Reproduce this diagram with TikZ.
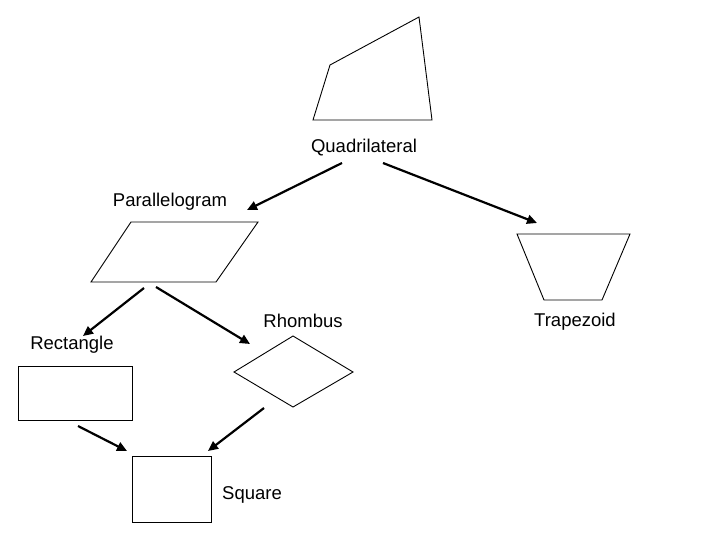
\documentclass[tikz,border=0pt]{standalone}
\usepackage{fontspec}
\setmainfont{Liberation Sans}
\usetikzlibrary{arrows.meta}

\tikzset{
  shapeline/.style={line width=0.9pt},
  isa/.style={line width=2.2pt, -{Triangle[length=10pt,width=9pt]}},
  lbl/.style={inner sep=0pt, font=\fontsize{18.5}{21}\selectfont}
}

\begin{document}
\begin{tikzpicture}[x=1pt, y=-1pt]
    \useasboundingbox[fill=white] (0,0) rectangle (720,540);

    % quadrilateral
    \draw[shapeline] (330,65) -- (419,17) -- (432,120) -- (313,120) -- cycle;
    \node[lbl] (quad) at (364,148) {Quadrilateral};

    % parallelogram and trapezoid
    \draw[shapeline] (131,222) -- (258,222) -- (216,282) -- (91,282) -- cycle;
    \node[lbl] (para) at (170,202) {Parallelogram};
    \draw[shapeline] (517,234) -- (630,234) -- (602,300) -- (544,300) -- cycle;
    \node[lbl] (trap) at (575,322) {Trapezoid};

    % rectangle and rhombus
    \node[lbl] (rect) at (72,345) {Rectangle};
    \draw[shapeline] (18,366) rectangle (132,420);
    \node[lbl] (rhom) at (303,321) {Rhombus};
    \draw[shapeline] (234,372) -- (293,336) -- (353,372) -- (293,407) -- cycle;

    % square
    \draw[shapeline] (132,456) rectangle (211,522);
    \node[lbl] (sq) at (252,495) {Square};

    % arrow ends
    \coordinate (q1) at (342,163);
    \coordinate (q2) at (383,163);
    \coordinate (p0) at (247,210);
    \coordinate (t0) at (537,223);
    \coordinate (p1) at (144,288);
    \coordinate (p2) at (156,287);
    \coordinate (r0) at (83,336);
    \coordinate (h0) at (250,344);
    \coordinate (r1) at (78,426);
    \coordinate (h1) at (264,408);
    \coordinate (s1) at (127,451);
    \coordinate (s2) at (208,451);

    \draw[isa] (q1) -- (p0);
    \draw[isa] (q2) -- (t0);
    \draw[isa] (p1) -- (r0);
    \draw[isa] (p2) -- (h0);
    \draw[isa] (r1) -- (s1);
    \draw[isa] (h1) -- (s2);
\end{tikzpicture}
\end{document}
